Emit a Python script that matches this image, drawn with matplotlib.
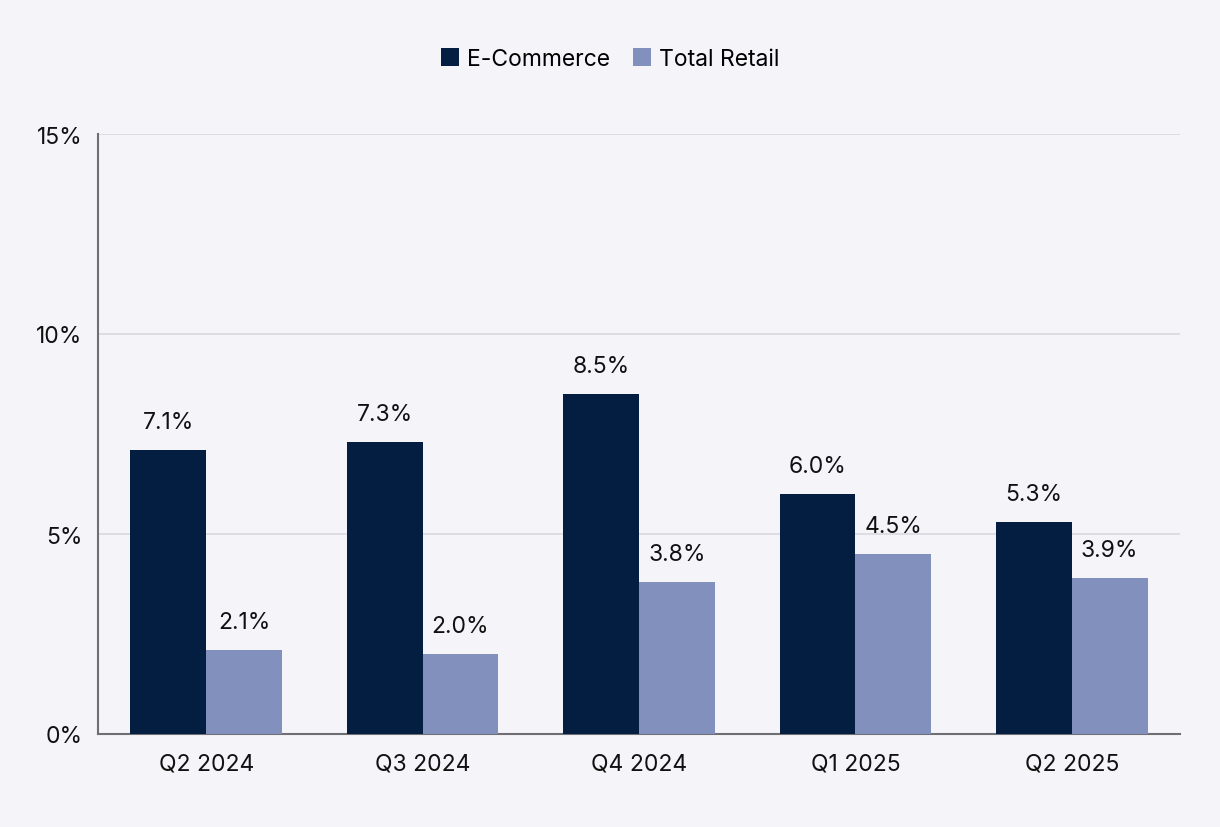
import numpy as np
import matplotlib.pyplot as plt
from matplotlib.ticker import FuncFormatter

quarters = ["Q2 2024", "Q3 2024", "Q4 2024", "Q1 2025", "Q2 2025"]
ecommerce = [7.1, 7.3, 8.5, 6.0, 5.3]
total_retail = [2.1, 2.0, 3.8, 4.5, 3.9]

bg = "#F5F4F9"
navy = "#041E42"
lav = "#8290BE"

plt.rcParams['font.family'] = ['Inter', 'DejaVu Sans']

fig = plt.figure(figsize=(12.2, 8.28), dpi=100, facecolor=bg)
ax = fig.add_axes([98/1220, 93/828, 1082/1220, 600/828], facecolor=bg)

x = np.arange(len(quarters))
w = 0.35
b1 = ax.bar(x - w/2, ecommerce, w, color=navy, label="E-Commerce", zorder=3)
b2 = ax.bar(x + w/2, total_retail, w, color=lav, label="Total Retail", zorder=3)

# value labels above each bar
for bars in (b1, b2):
    for rect in bars:
        v = rect.get_height()
        ax.annotate(f"{v:.1f}%", (rect.get_x() + rect.get_width()/2, v),
                    xytext=(0, 12), textcoords="offset points",
                    ha="center", va="bottom", fontsize=16.5, color="#111111")

ax.set_xlim(-0.5, len(quarters) - 0.5)
ax.set_ylim(0, 15)
ax.set_yticks([0, 5, 10, 15])
ax.yaxis.set_major_formatter(FuncFormatter(lambda v, p: f"{v:.0f}%"))
ax.set_xticks(x)
ax.set_xticklabels(quarters)
ax.tick_params(axis="both", labelsize=16.5, colors="#111111", length=0)
ax.tick_params(axis="y", pad=11)
ax.tick_params(axis="x", pad=13)

ax.grid(axis="y", color="#DCDBE2", linewidth=1.3, zorder=0)
for s in ("top", "right"):
    ax.spines[s].set_visible(False)
for s in ("left", "bottom"):
    ax.spines[s].set_color("#6E6E74")
    ax.spines[s].set_linewidth(1.5)

fig.legend(loc="center", bbox_to_anchor=(0.5, 1 - 60/828), ncol=2, frameon=False,
           fontsize=16.5, handlelength=0.8, handleheight=0.8, handletextpad=0.35,
           columnspacing=1.0)

fig.savefig("out.png", dpi=100, facecolor=bg)
